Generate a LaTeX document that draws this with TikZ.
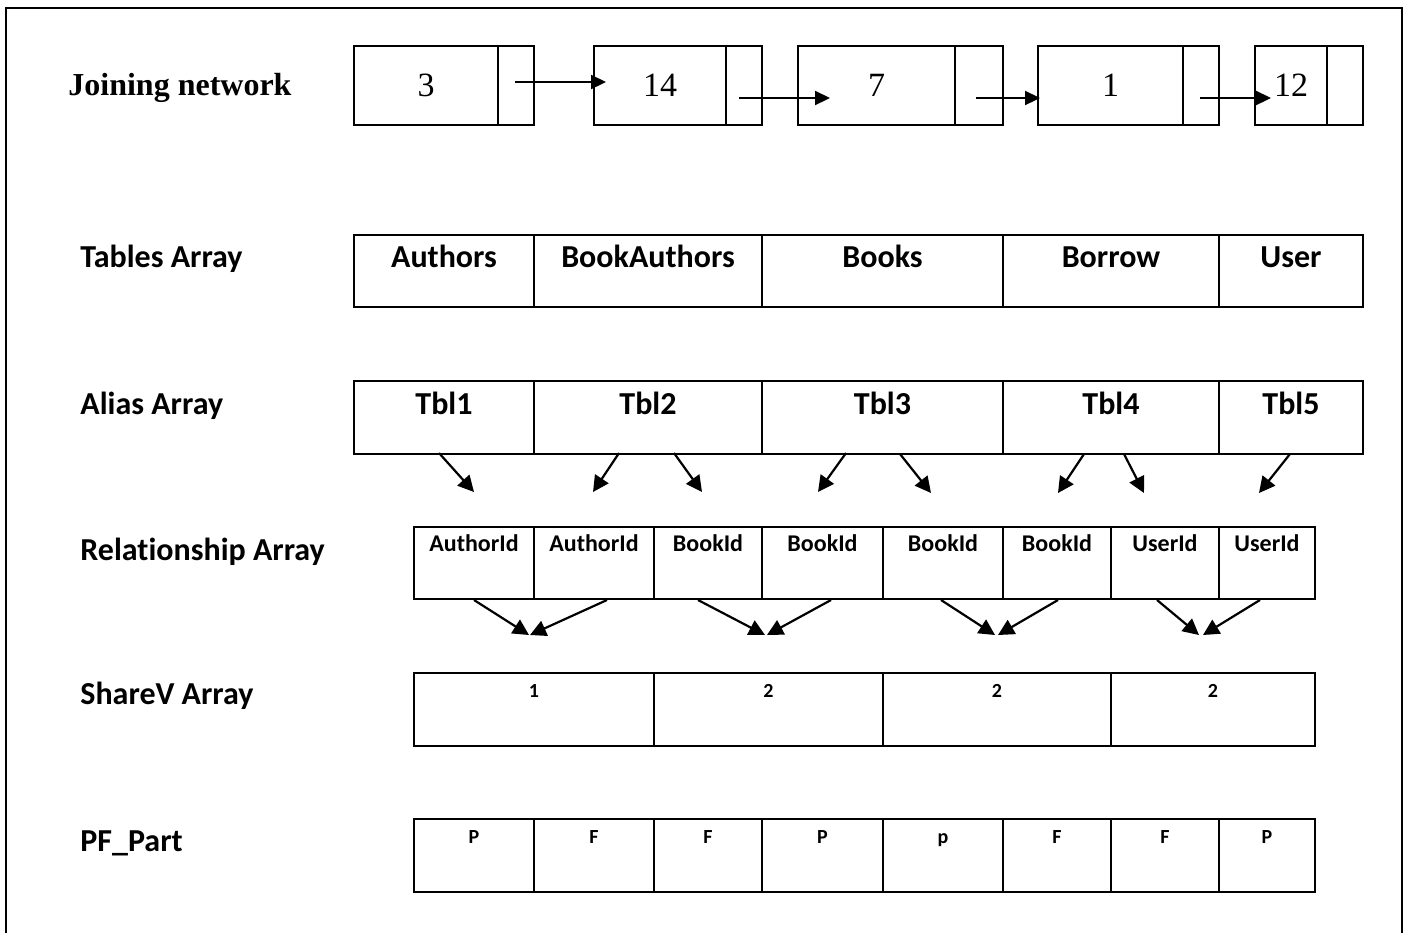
\documentclass[tikz,border=0pt]{standalone}
\usepackage{fontspec}
\setmainfont{Liberation Serif}
\newfontfamily\calfont[Ligatures=NoCommon]{Carlito}
\usetikzlibrary{arrows.meta}

% \cell{name}{x1}{y1}{x2}{y2}{extra style}{text}
\newcommand\cell[7]{%
  \node[box, minimum width={(#4-#2)*0.5pt}, minimum height={(#5-#3)*0.5pt}, #6]
    (#1) at ({(#2+#4)/2},{(#3+#5)/2}) {#7};}

\begin{document}
\begin{tikzpicture}[x=0.5pt,y=-0.5pt,
  box/.style={draw, line width=1pt, inner sep=0pt, outer sep=0pt},
  numtext/.style={font=\fontsize{17pt}{20pt}\selectfont},
  link/.style={line width=1.1pt, -{Triangle[length=7.5pt,width=7pt]}},
  ref/.style={line width=1.1pt, -{Triangle[length=8pt,width=8pt]}},
  rowlabel/.style={anchor=base west, inner sep=0pt,
    font=\calfont\bfseries\fontsize{16pt}{19pt}\selectfont},
  bigtext/.style={anchor=base, inner sep=0pt,
    font=\calfont\bfseries\fontsize{16pt}{19pt}\selectfont},
  midtext/.style={anchor=base, inner sep=0pt,
    font=\calfont\bfseries\fontsize{12pt}{14pt}\selectfont},
  smalltext/.style={anchor=base, inner sep=0pt,
    font=\calfont\bfseries\fontsize{10pt}{12pt}\selectfont},
]
\useasboundingbox (0,0) rectangle (1408,933);

% outer frame, open at the bottom
\draw[line width=1.2pt] (6,933) -- (6,8) -- (1402,8) -- (1402,933);

% ---------- Joining network: linked list ----------
\node[anchor=base west, inner sep=0pt, font=\bfseries\fontsize{16pt}{19pt}\selectfont]
  (lblJoin) at (68,95) {Joining network};

\cell{n1}{354}{46}{498}{125}{numtext}{3}
\cell{p1}{498}{46}{534}{125}{}{}
\cell{n2}{594}{46}{726}{125}{numtext}{14}
\cell{p2}{726}{46}{762}{125}{}{}
\cell{n3}{798}{46}{955}{125}{numtext}{7}
\cell{p3}{955}{46}{1003}{125}{}{}
\cell{n4}{1038}{46}{1183}{125}{numtext}{1}
\cell{p4}{1183}{46}{1219}{125}{}{}
\cell{n5}{1255}{46}{1327}{125}{numtext}{12}
\cell{p5}{1327}{46}{1363}{125}{}{}

\coordinate (l1s) at (515,82);  \coordinate (l1e) at (606,82);
\coordinate (l2s) at (739,98);  \coordinate (l2e) at (830,98);
\coordinate (l3s) at (976,98);  \coordinate (l3e) at (1040,98);
\coordinate (l4s) at (1200,98); \coordinate (l4e) at (1271,98);
\draw[link] (l1s) -- (l1e);
\draw[link] (l2s) -- (l2e);
\draw[link] (l3s) -- (l3e);
\draw[link] (l4s) -- (l4e);

% ---------- Tables Array ----------
\node[rowlabel] (lblTables) at (80,267) {Tables Array};
\cell{tb1}{354}{235}{534}{307}{}{}
\cell{tb2}{534}{235}{762}{307}{}{}
\cell{tb3}{762}{235}{1003}{307}{}{}
\cell{tb4}{1003}{235}{1219}{307}{}{}
\cell{tb5}{1219}{235}{1363}{307}{}{}
\node[bigtext] (tbt1) at ([yshift=-16pt]tb1.north) {Authors};
\node[bigtext] (tbt2) at ([yshift=-16pt]tb2.north) {BookAuthors};
\node[bigtext] (tbt3) at ([yshift=-16pt]tb3.north) {Books};
\node[bigtext] (tbt4) at ([yshift=-16pt]tb4.north) {Borrow};
\node[bigtext] (tbt5) at ([yshift=-16pt]tb5.north) {User};

% ---------- Alias Array ----------
\node[rowlabel] (lblAlias) at (80,414) {Alias Array};
\cell{al1}{354}{381}{534}{454}{}{}
\cell{al2}{534}{381}{762}{454}{}{}
\cell{al3}{762}{381}{1003}{454}{}{}
\cell{al4}{1003}{381}{1219}{454}{}{}
\cell{al5}{1219}{381}{1363}{454}{}{}
\node[bigtext] (alt1) at ([yshift=-16.5pt]al1.north) {Tbl1};
\node[bigtext] (alt2) at ([yshift=-16.5pt]al2.north) {Tbl2};
\node[bigtext] (alt3) at ([yshift=-16.5pt]al3.north) {Tbl3};
\node[bigtext] (alt4) at ([yshift=-16.5pt]al4.north) {Tbl4};
\node[bigtext] (alt5) at ([yshift=-16.5pt]al5.north) {Tbl5};

% alias -> relationship pointers
\coordinate (a1s) at (439,453);  \coordinate (a1e) at (474,492);
\coordinate (a2s) at (619,453);  \coordinate (a2e) at (593,492);
\coordinate (a3s) at (674,453);  \coordinate (a3e) at (702,492);
\coordinate (a4s) at (846,453);  \coordinate (a4e) at (818,492);
\coordinate (a5s) at (900,454);  \coordinate (a5e) at (931,493);
\coordinate (a6s) at (1084,454); \coordinate (a6e) at (1058,493);
\coordinate (a7s) at (1124,454); \coordinate (a7e) at (1144,493);
\coordinate (a8s) at (1290,454); \coordinate (a8e) at (1259,493);
\foreach \i in {1,...,8} \draw[ref] (a\i s) -- (a\i e);

% ---------- Relationship Array ----------
\node[rowlabel] (lblRel) at (80,560) {Relationship Array};
\cell{rl1}{414}{527}{534}{599}{}{}
\cell{rl2}{534}{527}{654}{599}{}{}
\cell{rl3}{654}{527}{762}{599}{}{}
\cell{rl4}{762}{527}{883}{599}{}{}
\cell{rl5}{883}{527}{1003}{599}{}{}
\cell{rl6}{1003}{527}{1111}{599}{}{}
\cell{rl7}{1111}{527}{1219}{599}{}{}
\cell{rl8}{1219}{527}{1315}{599}{}{}
\node[midtext] (rlt1) at ([yshift=-12pt]rl1.north) {AuthorId};
\node[midtext] (rlt2) at ([yshift=-12pt]rl2.north) {AuthorId};
\node[midtext] (rlt3) at ([yshift=-12pt]rl3.north) {BookId};
\node[midtext] (rlt4) at ([yshift=-12pt]rl4.north) {BookId};
\node[midtext] (rlt5) at ([yshift=-12pt]rl5.north) {BookId};
\node[midtext] (rlt6) at ([yshift=-12pt]rl6.north) {BookId};
\node[midtext] (rlt7) at ([yshift=-12pt]rl7.north) {UserId};
\node[midtext] (rlt8) at ([yshift=-12pt]rl8.north) {UserId};

% relationship pairs -> shared values
\coordinate (b1s) at (474,600);  \coordinate (b1e) at (529,635);
\coordinate (b2s) at (607,600);  \coordinate (b2e) at (530,635);
\coordinate (b3s) at (698,600);  \coordinate (b3e) at (765,635);
\coordinate (b4s) at (831,600);  \coordinate (b4e) at (767,635);
\coordinate (b5s) at (941,600);  \coordinate (b5e) at (995,635);
\coordinate (b6s) at (1058,600); \coordinate (b6e) at (998,635);
\coordinate (b7s) at (1157,600); \coordinate (b7e) at (1199,635);
\coordinate (b8s) at (1260,600); \coordinate (b8e) at (1203,635);
\foreach \i in {1,...,8} \draw[ref] (b\i s) -- (b\i e);

% ---------- ShareV Array ----------
\node[rowlabel] (lblShare) at (80,704) {ShareV Array};
\cell{sv1}{414}{673}{654}{746}{}{}
\cell{sv2}{654}{673}{883}{746}{}{}
\cell{sv3}{883}{673}{1111}{746}{}{}
\cell{sv4}{1111}{673}{1315}{746}{}{}
\node[smalltext] (svt1) at ([yshift=-12pt]sv1.north) {1};
\node[smalltext] (svt2) at ([yshift=-12pt]sv2.north) {2};
\node[smalltext] (svt3) at ([yshift=-12pt]sv3.north) {2};
\node[smalltext] (svt4) at ([yshift=-12pt]sv4.north) {2};

% ---------- PF_Part ----------
\node[rowlabel] (lblPF) at (80,851) {PF\_Part};
\cell{pf1}{414}{819}{534}{892}{}{}
\cell{pf2}{534}{819}{654}{892}{}{}
\cell{pf3}{654}{819}{762}{892}{}{}
\cell{pf4}{762}{819}{883}{892}{}{}
\cell{pf5}{883}{819}{1003}{892}{}{}
\cell{pf6}{1003}{819}{1111}{892}{}{}
\cell{pf7}{1111}{819}{1219}{892}{}{}
\cell{pf8}{1219}{819}{1315}{892}{}{}
\node[smalltext] (pft1) at ([yshift=-12pt]pf1.north) {P};
\node[smalltext] (pft2) at ([yshift=-12pt]pf2.north) {F};
\node[smalltext] (pft3) at ([yshift=-12pt]pf3.north) {F};
\node[smalltext] (pft4) at ([yshift=-12pt]pf4.north) {P};
\node[smalltext] (pft5) at ([yshift=-12pt]pf5.north) {p};
\node[smalltext] (pft6) at ([yshift=-12pt]pf6.north) {F};
\node[smalltext] (pft7) at ([yshift=-12pt]pf7.north) {F};
\node[smalltext] (pft8) at ([yshift=-12pt]pf8.north) {P};
\end{tikzpicture}
\end{document}
